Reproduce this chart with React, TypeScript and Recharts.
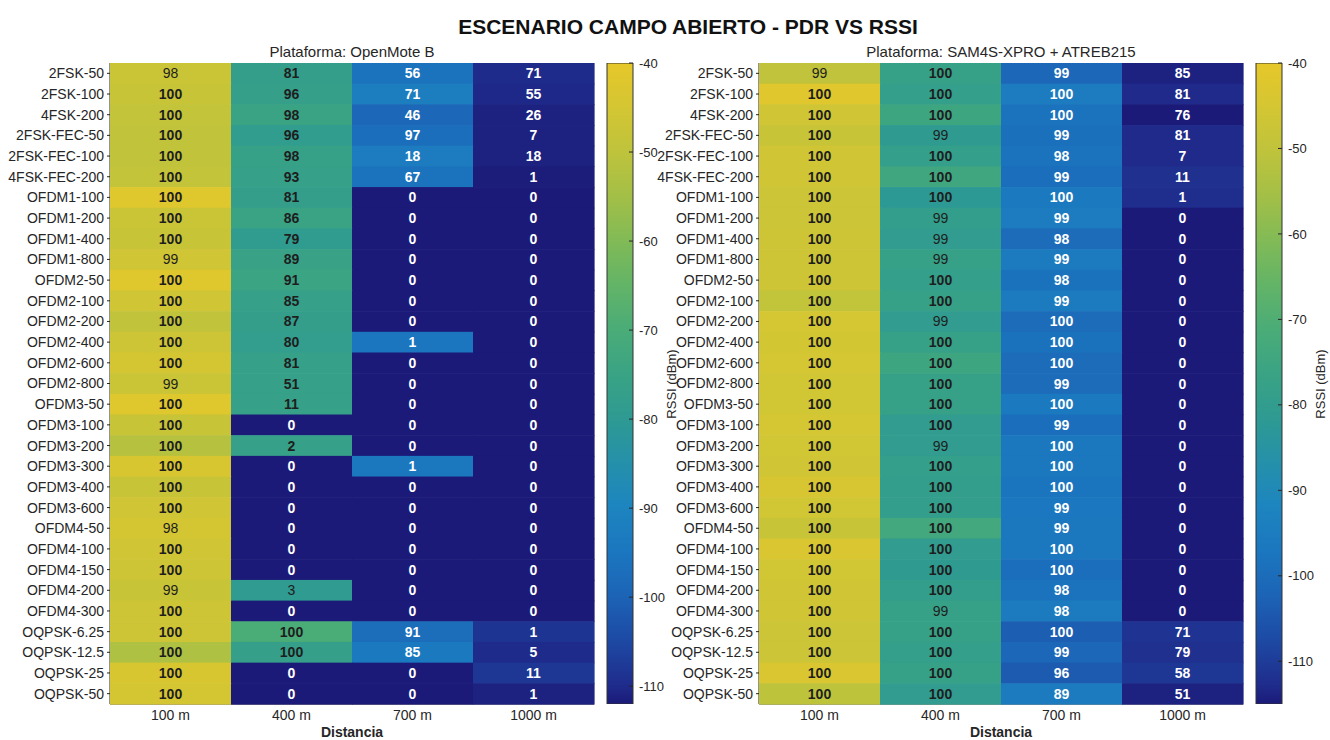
import { Bar, BarChart, Scatter, ScatterChart, XAxis, YAxis } from "recharts";

const PROTOCOLS = [
  "2FSK-50", "2FSK-100", "4FSK-200", "2FSK-FEC-50", "2FSK-FEC-100", "4FSK-FEC-200",
  "OFDM1-100", "OFDM1-200", "OFDM1-400", "OFDM1-800",
  "OFDM2-50", "OFDM2-100", "OFDM2-200", "OFDM2-400", "OFDM2-600", "OFDM2-800",
  "OFDM3-50", "OFDM3-100", "OFDM3-200", "OFDM3-300", "OFDM3-400", "OFDM3-600",
  "OFDM4-50", "OFDM4-100", "OFDM4-150", "OFDM4-200", "OFDM4-300",
  "OQPSK-6.25", "OQPSK-12.5", "OQPSK-25", "OQPSK-50",
];
const DISTANCES = ["100 m", "400 m", "700 m", "1000 m"];

// PDR (%) per row: [100 m, 400 m, 700 m, 1000 m]
const PDR_OPENMOTE = [
  [98, 81, 56, 71], [100, 96, 71, 55], [100, 98, 46, 26], [100, 96, 97, 7], [100, 98, 18, 18], [100, 93, 67, 1],
  [100, 81, 0, 0], [100, 86, 0, 0], [100, 79, 0, 0], [99, 89, 0, 0],
  [100, 91, 0, 0], [100, 85, 0, 0], [100, 87, 0, 0], [100, 80, 1, 0], [100, 81, 0, 0], [99, 51, 0, 0],
  [100, 11, 0, 0], [100, 0, 0, 0], [100, 2, 0, 0], [100, 0, 1, 0], [100, 0, 0, 0], [100, 0, 0, 0],
  [98, 0, 0, 0], [100, 0, 0, 0], [100, 0, 0, 0], [99, 3, 0, 0], [100, 0, 0, 0],
  [100, 100, 91, 1], [100, 100, 85, 5], [100, 0, 0, 11], [100, 0, 0, 1],
];
// RSSI (dBm)
const RSSI_OPENMOTE = [
  [-47.5, -77.5, -96, -110], [-48, -77, -92.5, -110.3], [-49, -75, -99, -111], [-49.5, -78.5, -97, -111], [-49.5, -76, -93, -111], [-49, -76.5, -96, -111.7],
  [-42, -77.5, -112, -112], [-47.5, -75, -112, -112], [-48, -79, -112, -112], [-46, -75.5, -112, -112],
  [-42, -74.5, -112, -112], [-46, -76.5, -112, -112], [-49.5, -77.5, -112, -112], [-46.5, -78, -95, -112], [-45, -76.5, -112, -112], [-47.5, -76.5, -112, -112],
  [-42, -76.5, -112, -112], [-48, -112, -112, -112], [-51.5, -76.5, -112, -112], [-44, -112, -94.5, -112], [-48, -112, -112, -112], [-46, -112, -112, -112],
  [-45, -112, -112, -112], [-46, -112, -112, -112], [-46.5, -112, -112, -112], [-48, -79.5, -112, -112], [-46.5, -112, -112, -112],
  [-46.5, -70, -97.5, -108.5], [-53, -77, -93.5, -110], [-44, -112, -112, -108], [-45, -112, -112, -111],
];

const PDR_SAM4S = [
  [99, 100, 99, 85], [100, 100, 100, 81], [100, 100, 100, 76], [100, 99, 99, 81], [100, 100, 98, 7], [100, 100, 99, 11],
  [100, 100, 100, 1], [100, 99, 99, 0], [100, 99, 98, 0], [100, 99, 99, 0],
  [100, 100, 98, 0], [100, 100, 99, 0], [100, 99, 100, 0], [100, 100, 100, 0], [100, 100, 100, 0], [100, 100, 99, 0],
  [100, 100, 100, 0], [100, 100, 99, 0], [100, 99, 100, 0], [100, 100, 100, 0], [100, 100, 100, 0], [100, 100, 99, 0],
  [100, 100, 99, 0], [100, 100, 100, 0], [100, 100, 100, 0], [100, 100, 98, 0], [100, 99, 98, 0],
  [100, 100, 100, 71], [100, 100, 99, 79], [100, 100, 96, 58], [100, 100, 89, 51],
];
const RSSI_SAM4S = [
  [-50, -77.5, -101.5, -114], [-42, -79, -95, -113], [-46.5, -75, -98, -115], [-48, -81, -99, -113], [-46.5, -79, -98, -113], [-46.5, -74.5, -99.5, -112],
  [-47.5, -82, -96, -112.5], [-47.5, -79.5, -95, -115], [-47, -80.5, -100, -115], [-47, -77.5, -95.5, -115],
  [-47, -79, -98.5, -115], [-49.5, -77.5, -95.5, -115], [-45, -80.5, -100, -115], [-45.5, -77.5, -98.5, -115], [-45, -75, -100, -115], [-46, -77.5, -100, -115],
  [-46, -77.5, -96, -115], [-45, -80.5, -99.5, -115], [-46, -80.5, -96.5, -115], [-46.5, -79, -96.5, -115], [-44.5, -79.5, -97.5, -115], [-46, -79.5, -97, -115],
  [-48, -73.5, -96.5, -115], [-43.5, -80.5, -96.5, -115], [-46, -81, -99.5, -115], [-46.5, -79.5, -98, -115], [-46.5, -77.5, -95.5, -115],
  [-47.5, -77.5, -103.5, -111.5], [-47.5, -79, -101.5, -112], [-43.5, -77.5, -104, -111], [-50.5, -80.5, -95.5, -114],
];

const RSSI_TICKS = [-110, -100, -90, -80, -70, -60, -50, -40];

// parula-like map, as it looks in the picture (t = 0 bottom, 1 top)
const COLORMAP: [number, string][] = [
  [0, "#1b1a78"], [0.03, "#1f2c8c"], [0.1, "#1d4aa4"], [0.17, "#1c64b6"], [0.24, "#1b77bf"],
  [0.31, "#1d85bf"], [0.375, "#2590aa"], [0.445, "#2e9a92"], [0.515, "#3aa384"], [0.585, "#4aac77"],
  [0.655, "#63b467"], [0.72, "#80ba57"], [0.79, "#a2bf47"], [0.86, "#bec33c"], [0.93, "#d4c633"],
  [1, "#e6c72a"],
];

const FONT = "'Liberation Sans', Arial, sans-serif";
const INK = "#262626";
const CHART_W = 600;
const CHART_H = 740;
const AXIS_W = 110;
const PLOT_TOP = 63;
const PLOT_BOTTOM_GAP = 36;
const PLOT_W = CHART_W - AXIS_W - 6;
const PLOT_H = CHART_H - PLOT_TOP - PLOT_BOTTOM_GAP;
const CELL_W = PLOT_W / DISTANCES.length;
const CELL_H = PLOT_H / PROTOCOLS.length;

function hexToRgb(h: string) {
  return [1, 3, 5].map((i) => parseInt(h.slice(i, i + 2), 16));
}

function colorAt(t: number) {
  const v = Math.max(0, Math.min(1, t));
  for (let i = 1; i < COLORMAP.length; i++) {
    const [t1, c1] = COLORMAP[i];
    const [t0, c0] = COLORMAP[i - 1];
    if (v <= t1) {
      const f = (v - t0) / (t1 - t0);
      const a = hexToRgb(c0);
      const b = hexToRgb(c1);
      const m = a.map((x, k) => Math.round(x + (b[k] - x) * f));
      return `rgb(${m[0]},${m[1]},${m[2]})`;
    }
  }
  return COLORMAP[COLORMAP.length - 1][1];
}

function HeatCell(props: any) {
  const { cx, cy, payload } = props;
  if (cx == null || cy == null) return null;
  const dark = payload.t > 0.38;
  const light = dark && (payload.pdr === 99 || payload.pdr === 3 || (payload.pdr === 98 && payload.x === 0));
  return (
    <g>
      <rect
        x={cx - CELL_W / 2}
        y={cy - CELL_H / 2}
        width={CELL_W + 0.6}
        height={CELL_H + 0.6}
        fill={colorAt(payload.t)}
      />
      <text
        x={cx}
        y={cy}
        textAnchor="middle"
        dominantBaseline="central"
        fontSize={14}
        fontFamily={FONT}
        fontWeight={light ? 400 : 700}
        fill={dark ? "#1e1e1e" : "#ffffff"}
      >
        {payload.pdr}
      </text>
    </g>
  );
}

function Heatmap({ title, pdr, rssi, min, max, left }: any) {
  const cells = pdr.flatMap((row: number[], r: number) =>
    row.map((v, c) => ({ x: c, y: r, pdr: v, t: (rssi[r][c] - min) / (max - min) })),
  );
  const rowTicks = PROTOCOLS.map((_, i) => i);
  const colTicks = DISTANCES.map((_, i) => i);
  const xDomain = [-0.5, DISTANCES.length - 0.5];
  const yDomain = [-0.5, PROTOCOLS.length - 0.5];
  const barData = [{ name: "RSSI", range: [min, max] }];
  return (
    <>
      <div
        style={{
          position: "absolute",
          left: left + AXIS_W - 40,
          width: PLOT_W + 80,
          top: 43,
          textAlign: "center",
          fontSize: 15,
          color: INK,
        }}
      >
        {title}
      </div>
      <div style={{ position: "absolute", left, top: 0 }}>
        <ScatterChart width={CHART_W} height={CHART_H} margin={{ top: PLOT_TOP, right: 6, bottom: 0, left: 0 }}>
          <XAxis
            type="number"
            dataKey="x"
            domain={xDomain}
            ticks={colTicks}
            interval={0}
            tickFormatter={(v) => DISTANCES[v]}
            height={PLOT_BOTTOM_GAP}
            tickSize={-4}
            tickMargin={10}
            tick={{ fill: INK, fontSize: 14 }}
            stroke={INK}
            label={{ value: "Distancia", position: "insideBottom", offset: 3, fill: INK, fontSize: 14, fontWeight: 700 }}
          />
          <XAxis
            xAxisId="top"
            orientation="top"
            type="number"
            domain={xDomain}
            ticks={colTicks}
            interval={0}
            tickFormatter={() => ""}
            height={0}
            tickSize={-4}
            stroke={INK}
          />
          <YAxis
            type="number"
            dataKey="y"
            domain={yDomain}
            reversed
            ticks={rowTicks}
            interval={0}
            tickFormatter={(v) => PROTOCOLS[v]}
            width={AXIS_W}
            tickSize={3}
            tickMargin={3}
            tick={{ fill: INK, fontSize: 14 }}
            stroke={INK}
          />
          <YAxis
            yAxisId="right"
            orientation="right"
            type="number"
            domain={yDomain}
            reversed
            ticks={rowTicks}
            interval={0}
            tickFormatter={() => ""}
            width={0}
            tickSize={-4}
            stroke={INK}
          />
          <Scatter data={cells} shape={(p: any) => <HeatCell {...p} />} isAnimationActive={false} />
        </ScatterChart>
      </div>
      <div style={{ position: "absolute", left: left + CHART_W + 1, top: 0 }}>
        <BarChart
          width={80}
          height={CHART_H}
          data={barData}
          margin={{ top: PLOT_TOP, right: 0, bottom: PLOT_BOTTOM_GAP, left: 6 }}
          barCategoryGap={0}
        >
          <XAxis dataKey="name" hide />
          <YAxis
            type="number"
            orientation="right"
            domain={[min, max]}
            ticks={RSSI_TICKS}
            interval={0}
            width={48}
            tickSize={-4}
            tickMargin={10}
            tick={{ fill: INK, fontSize: 13 }}
            stroke={INK}
            axisLine={false}
            allowDataOverflow
          />
          <Bar dataKey="range" fill="url(#parulaGrad)" stroke="#333" strokeWidth={1} isAnimationActive={false} />
        </BarChart>
      </div>
      <div
        style={{
          position: "absolute",
          left: left + CHART_W + 73 - 60,
          top: PLOT_TOP + PLOT_H / 2 - 9,
          width: 120,
          textAlign: "center",
          fontSize: 13,
          color: INK,
          transform: "rotate(-90deg)",
          transformOrigin: "60px 9px",
        }}
      >
        RSSI (dBm)
      </div>
    </>
  );
}

export default function App() {
  return (
    <div
      style={{
        position: "absolute",
        left: 0,
        top: 0,
        width: 1330,
        height: 740,
        background: "#fff",
        overflow: "hidden",
        fontFamily: FONT,
      }}
    >
      <svg width={0} height={0} style={{ position: "absolute" }}>
        <defs>
          <linearGradient id="parulaGrad" x1="0" y1="1" x2="0" y2="0">
            {COLORMAP.map(([t, c]) => (
              <stop key={t} offset={t} stopColor={c} />
            ))}
          </linearGradient>
        </defs>
      </svg>
      <div
        style={{
          position: "absolute",
          left: 0,
          width: 1376,
          top: 15,
          textAlign: "center",
          fontSize: 21,
          fontWeight: 700,
          color: "#111",
        }}
      >
        ESCENARIO CAMPO ABIERTO - PDR VS RSSI
      </div>
      <Heatmap title="Plataforma: OpenMote B" pdr={PDR_OPENMOTE} rssi={RSSI_OPENMOTE} min={-112} max={-40} left={0} />
      <Heatmap title="Plataforma: SAM4S-XPRO + ATREB215" pdr={PDR_SAM4S} rssi={RSSI_SAM4S} min={-115} max={-40} left={649} />
    </div>
  );
}
